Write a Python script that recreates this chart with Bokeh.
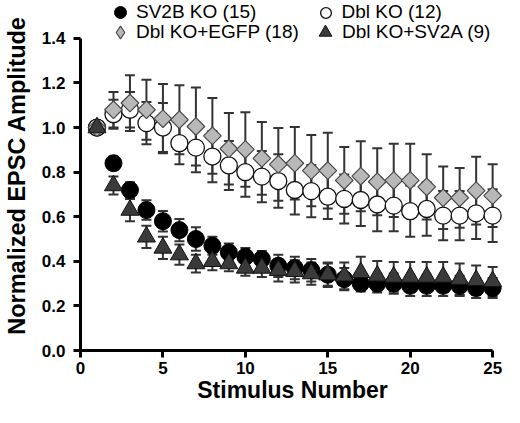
import numpy as np
from bokeh.plotting import figure
from bokeh.models import (ColumnDataSource, Range1d, FixedTicker, PrintfTickFormatter,
                          Whisker, TeeHead, Legend, LegendItem)
from bokeh.embed import file_html
from bokeh.resources import INLINE

stim = list(range(1, 26))

sv2b = [1.00, 0.84, 0.72, 0.63, 0.58, 0.54, 0.50, 0.47, 0.44, 0.42, 0.41, 0.38, 0.37,
        0.36, 0.34, 0.32, 0.30, 0.30, 0.30, 0.29, 0.29, 0.29, 0.29, 0.28, 0.28]
sv2b_err = [0.02, 0.03, 0.035, 0.044, 0.046, 0.05, 0.053, 0.04, 0.04, 0.04, 0.036, 0.05, 0.05,
            0.05, 0.05, 0.05, 0.035, 0.04, 0.045, 0.045, 0.045, 0.045, 0.045, 0.045, 0.045]

dbl = [1.00, 1.06, 1.08, 1.02, 1.00, 0.93, 0.91, 0.87, 0.83, 0.80, 0.78, 0.76, 0.72,
       0.715, 0.69, 0.68, 0.675, 0.655, 0.65, 0.625, 0.635, 0.605, 0.605, 0.615, 0.605]
dbl_err = [0.02, 0.065, 0.08, 0.095, 0.11, 0.095, 0.11, 0.115, 0.11, 0.11, 0.115, 0.12, 0.11,
           0.117, 0.10, 0.11, 0.116, 0.12, 0.115, 0.115, 0.12, 0.11, 0.11, 0.115, 0.118]

egfp = [1.00, 1.08, 1.11, 1.08, 1.04, 1.035, 1.005, 0.963, 0.905, 0.902, 0.862, 0.835, 0.84,
        0.807, 0.807, 0.763, 0.782, 0.757, 0.763, 0.763, 0.734, 0.685, 0.685, 0.717, 0.695]
egfp_err = [0.02, 0.08, 0.125, 0.135, 0.155, 0.155, 0.175, 0.17, 0.16, 0.167, 0.163, 0.163, 0.163,
            0.16, 0.17, 0.15, 0.157, 0.15, 0.164, 0.164, 0.146, 0.14, 0.134, 0.152, 0.141]

sv2a = [1.00, 0.74, 0.63, 0.51, 0.46, 0.43, 0.39, 0.40, 0.39, 0.37, 0.37, 0.36, 0.355,
        0.345, 0.34, 0.335, 0.35, 0.335, 0.33, 0.33, 0.33, 0.33, 0.32, 0.315, 0.31]
sv2a_err = [0.02, 0.04, 0.05, 0.05, 0.05, 0.045, 0.04, 0.04, 0.035, 0.035, 0.04, 0.05, 0.05,
            0.05, 0.055, 0.06, 0.07, 0.066, 0.067, 0.067, 0.067, 0.067, 0.07, 0.066, 0.065]

labels = ["SV2B KO (15)", "Dbl KO (12)", "Dbl KO+EGFP (18)", "Dbl KO+SV2A (9)"]
x_ticks = [0, 5, 10, 15, 20, 25]
y_ticks = [0.0, 0.2, 0.4, 0.6, 0.8, 1.0, 1.2, 1.4]

FONT = "Liberation Sans"

p = figure(width=504, height=407, output_backend="svg", toolbar_location=None,
           x_range=Range1d(0, 25.72), y_range=Range1d(0, 1.570),
           min_border_left=78, min_border_right=0, min_border_top=0, min_border_bottom=57)
p.outline_line_color = None
p.xgrid.visible = False
p.ygrid.visible = False
p.background_fill_color = "white"
p.border_fill_color = "white"

def src(y, e):
    y = np.array(y); e = np.array(e)
    return ColumnDataSource(dict(x=stim, y=y, lo=y - e, hi=y + e))

s_b = src(sv2b, sv2b_err)
s_d = src(dbl, dbl_err)
s_e = src(egfp, egfp_err)
s_a = src(sv2a, sv2a_err)

for s in (s_b, s_d, s_e, s_a):
    w = Whisker(base="x", lower="lo", upper="hi", source=s, level="underlay",
                line_color="#333333", line_width=2,
                upper_head=TeeHead(size=10, line_color="#333333", line_width=2),
                lower_head=TeeHead(size=10, line_color="#333333", line_width=2))
    p.add_layout(w)

r_b = p.scatter("x", "y", source=s_b, marker="circle", size=17,
                fill_color="black", line_color="black", line_width=1)
r_d = p.scatter("x", "y", source=s_d, marker="circle", size=17,
                fill_color="white", line_color="#111111", line_width=1.3)
# diamond glyph used for the legend entry; it sits fully hidden beneath the rotated squares
r_e_leg = p.scatter("x", "y", source=s_e, marker="diamond", size=11,
                    fill_color="#b8b8b8", line_color="#4a4a4a", line_width=1.2)
r_e = p.scatter("x", "y", source=s_e, marker="square", size=12.5, angle=np.pi / 4,
                fill_color="#b8b8b8", line_color="#4a4a4a", line_width=1.2)
r_a = p.scatter("x", "y", source=s_a, marker="triangle", size=18,
                fill_color="#3a3a3a", line_color="#111111", line_width=1)

# one legend per entry: (label, renderer, glyph box, x, y, standoff)
legend_specs = [
    (labels[0], r_b, 30, 25, 323, 1),
    (labels[2], r_e_leg, 32, 24, 302, 0),
    (labels[1], r_d, 27, 231.5, 324.5, 3),
    (labels[3], r_a, 32, 229, 302, 1),
]
for lab, rend, box, lx, ly, so in legend_specs:
    leg = Legend(items=[LegendItem(label=lab, renderers=[rend])],
                 location=(lx, ly), orientation="vertical",
                 padding=0, margin=0, spacing=0,
                 glyph_width=box, glyph_height=box, label_height=box,
                 label_standoff=so, label_text_font=FONT, label_text_font_size="19px",
                 label_text_color="black",
                 border_line_alpha=0, background_fill_alpha=0)
    p.add_layout(leg)

for ax in (p.xaxis[0], p.yaxis[0]):
    ax.axis_line_width = 3
    ax.axis_line_color = "black"
    ax.major_tick_line_width = 3
    ax.major_tick_line_color = "black"
    ax.major_tick_out = 7
    ax.major_tick_in = 0
    ax.minor_tick_line_color = None
    ax.major_label_text_font = FONT
    ax.major_label_text_font_style = "bold"
    ax.major_label_text_font_size = "17px"
    ax.major_label_text_color = "black"
    ax.axis_label_text_font = FONT
    ax.axis_label_text_font_style = "bold"
    ax.axis_label_text_color = "black"

p.xaxis.axis_label_text_font_size = "23px"
p.yaxis.axis_label_text_font_size = "23.5px"
p.xaxis.ticker = FixedTicker(ticks=x_ticks)
p.yaxis.ticker = FixedTicker(ticks=y_ticks)
p.yaxis.formatter = PrintfTickFormatter(format="%.1f")
p.xaxis.bounds = (0, 25)
p.yaxis.bounds = (0, 1.4)
p.xaxis.axis_label = "Stimulus Number"
p.yaxis.axis_label = "Normalized EPSC Amplitude"
p.xaxis.major_label_standoff = 4
p.yaxis.major_label_standoff = 8
p.xaxis.axis_label_standoff = 0
p.yaxis.axis_label_standoff = 9

open("out.html", "w").write(file_html(p, INLINE))
